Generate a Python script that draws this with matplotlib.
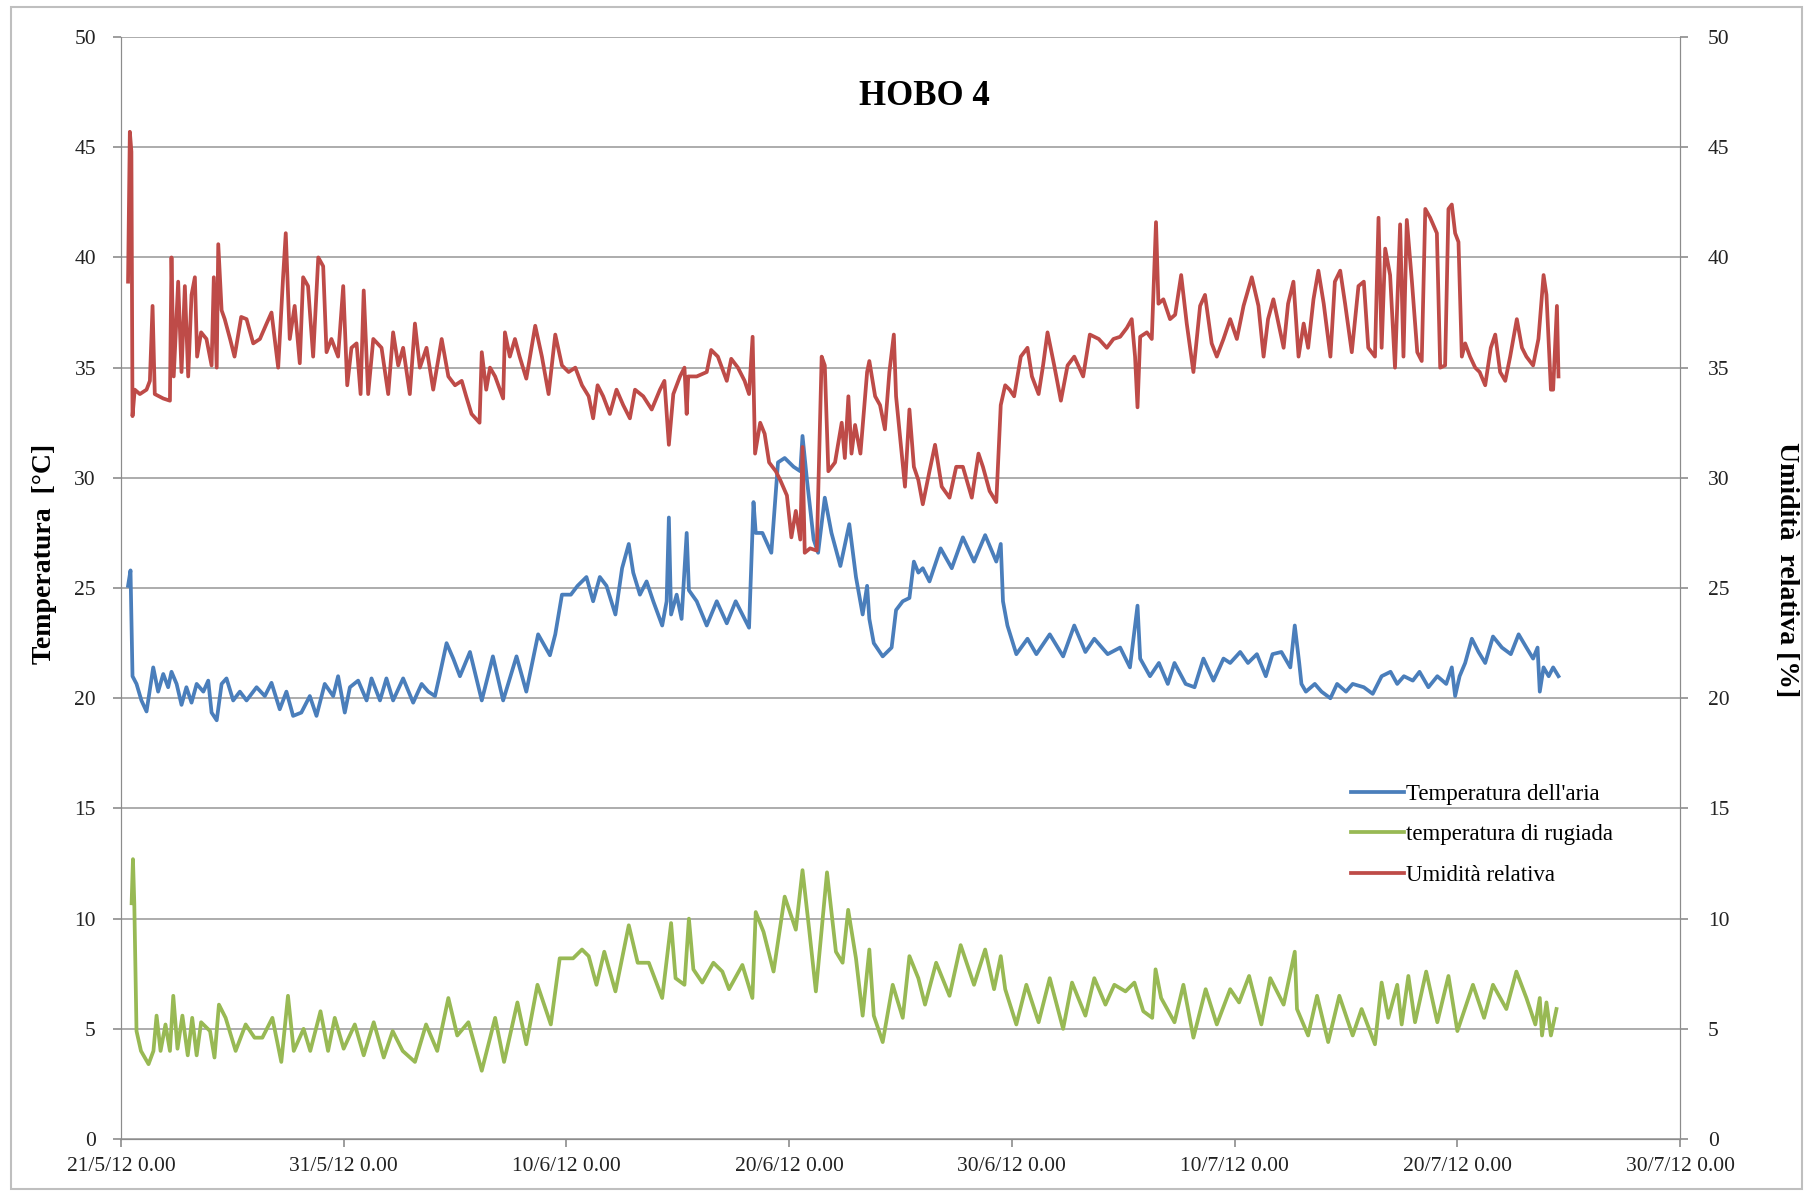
import numpy as np
import matplotlib.pyplot as plt
from matplotlib.patches import Rectangle

plt.rcParams['font.family'] = ['Liberation Serif', 'DejaVu Serif']

# x = days after 21/5/12 0.00
tick_days = [0, 10, 20, 30, 40, 50, 60, 70]
tick_labels = ["21/5/12 0.00", "31/5/12 0.00", "10/6/12 0.00", "20/6/12 0.00",
               "30/6/12 0.00", "10/7/12 0.00", "20/7/12 0.00", "30/7/12 0.00"]

# Temperatura dell'aria
temp_days = [0.32, 0.43, 0.52, 0.7, 0.92, 1.15, 1.45, 1.67, 1.9, 2.12, 2.27, 2.5, 2.72, 2.94,
             3.17, 3.4, 3.7, 3.92, 4.07, 4.3, 4.52, 4.74, 5.04, 5.34, 5.64, 6.09, 6.46, 6.76,
             7.13, 7.43, 7.73, 8.1, 8.48, 8.78, 9.15, 9.53, 9.75, 10.05, 10.28, 10.65, 11.03,
             11.25, 11.63, 11.92, 12.22, 12.67, 13.12, 13.5, 13.8, 14.1, 14.3, 14.62, 14.92,
             15.22, 15.67, 16.2, 16.7, 17.16, 17.76, 18.2, 18.73, 19.26, 19.5, 19.8, 20.2,
             20.5, 20.9, 21.2, 21.5, 21.8, 22.2, 22.5, 22.8, 23.0, 23.3, 23.6, 23.9, 24.3,
             24.5, 24.6, 24.7, 24.95, 25.17, 25.4, 25.5, 25.85, 26.3, 26.75, 27.2, 27.6, 28.2,
             28.4, 28.5, 28.8, 29.2, 29.5, 29.8, 30.2, 30.5, 30.6, 30.8, 31.1, 31.3, 31.6,
             31.9, 32.3, 32.7, 33.0, 33.3, 33.5, 33.6, 33.8, 34.2, 34.6, 34.8, 35.1, 35.4,
             35.6, 35.8, 36.0, 36.3, 36.8, 37.3, 37.8, 38.3, 38.8, 39.3, 39.5, 39.6, 39.8,
             40.2, 40.7, 41.1, 41.7, 42.3, 42.8, 43.3, 43.7, 44.3, 44.86, 45.3, 45.64, 45.76,
             46.2, 46.6, 47.0, 47.3, 47.8, 48.2, 48.6, 49.05, 49.5, 49.8, 50.25, 50.6, 51.0,
             51.4, 51.7, 52.1, 52.5, 52.7, 52.9, 53.0, 53.2, 53.6, 53.9, 54.3, 54.6, 55.0,
             55.3, 55.8, 56.2, 56.6, 57.0, 57.3, 57.6, 58.0, 58.3, 58.7, 59.1, 59.5, 59.75,
             59.9, 60.1, 60.35, 60.65, 60.95, 61.25, 61.6, 62.0, 62.4, 62.75, 63.1, 63.4,
             63.6, 63.7, 63.87, 64.1, 64.3, 64.54]
temp_vals = [25.1, 25.8, 21.0, 20.65, 19.9, 19.4, 21.4, 20.3, 21.1, 20.5, 21.2, 20.65, 19.7,
             20.5, 19.8, 20.65, 20.3, 20.8, 19.35, 19.0, 20.65, 20.9, 19.9, 20.3, 19.9, 20.5,
             20.1, 20.7, 19.5, 20.3, 19.2, 19.35, 20.1, 19.2, 20.65, 20.1, 21.0, 19.35, 20.5,
             20.8, 19.9, 20.9, 19.9, 20.9, 19.9, 20.9, 19.8, 20.65, 20.3, 20.1, 21.0, 22.5,
             21.8, 21.0, 22.1, 19.9, 21.9, 19.9, 21.9, 20.3, 22.9, 21.95, 22.9, 24.7, 24.7,
             25.1, 25.5, 24.4, 25.5, 25.1, 23.8, 25.9, 27.0, 25.7, 24.7, 25.3, 24.4, 23.3,
             24.4, 28.2, 23.8, 24.7, 23.6, 27.5, 24.9, 24.4, 23.3, 24.4, 23.4, 24.4, 23.2,
             28.9, 27.5, 27.5, 26.6, 30.7, 30.9, 30.5, 30.3, 31.9, 29.9, 27.2, 26.6, 29.1,
             27.5, 26.0, 27.9, 25.5, 23.8, 25.1, 23.6, 22.5, 21.9, 22.3, 24.0, 24.4, 24.55,
             26.2, 25.7, 25.9, 25.3, 26.8, 25.9, 27.3, 26.2, 27.4, 26.2, 27.0, 24.4, 23.3,
             22.0, 22.7, 22.0, 22.9, 21.9, 23.3, 22.1, 22.7, 22.0, 22.3, 21.4, 24.2, 21.8,
             21.0, 21.6, 20.65, 21.6, 20.65, 20.5, 21.8, 20.8, 21.8, 21.6, 22.1, 21.6, 22.0,
             21.0, 22.0, 22.1, 21.4, 23.3, 21.6, 20.65, 20.3, 20.65, 20.3, 20.0, 20.65, 20.3,
             20.65, 20.5, 20.2, 21.0, 21.2, 20.65, 21.0, 20.8, 21.2, 20.5, 21.0, 20.65, 21.4,
             20.1, 21.0, 21.6, 22.7, 22.1, 21.6, 22.8, 22.3, 22.0, 22.9, 22.3, 21.8,
             22.3, 20.3, 21.4, 21.0, 21.4, 21.0]

# temperatura di rugiada
dew_days = [0.48, 0.54, 0.6, 0.7, 0.9, 1.24, 1.46, 1.6, 1.78, 2.0, 2.2, 2.35, 2.54, 2.76, 3.0,
            3.2, 3.4, 3.6, 4.0, 4.2, 4.4, 4.7, 5.15, 5.6, 6.0, 6.35, 6.8, 7.2, 7.5, 7.76, 8.2,
            8.5, 8.96, 9.3, 9.6, 10.0, 10.5, 10.9, 11.35, 11.8, 12.2, 12.65, 13.2, 13.7, 14.2,
            14.7, 15.1, 15.6, 16.2, 16.8, 17.2, 17.8, 18.2, 18.7, 19.3, 19.7, 20.3, 20.7, 21.0,
            21.35, 21.7, 22.2, 22.8, 23.2, 23.7, 24.3, 24.7, 24.9, 25.3, 25.5, 25.7, 26.1,
            26.6, 27.0, 27.3, 27.9, 28.35, 28.5, 28.85, 29.3, 29.8, 30.3, 30.6, 30.9, 31.2,
            31.7, 32.1, 32.4, 32.65, 33.0, 33.3, 33.6, 33.8, 34.2, 34.65, 35.1, 35.4, 35.8,
            36.1, 36.6, 37.2, 37.7, 38.3, 38.8, 39.2, 39.5, 39.7, 40.2, 40.65, 41.2, 41.7,
            42.3, 42.7, 43.3, 43.7, 44.2, 44.6, 45.1, 45.5, 45.9, 46.3, 46.45, 46.7, 47.3,
            47.7, 48.15, 48.7, 49.2, 49.8, 50.2, 50.65, 51.2, 51.6, 52.2, 52.7, 52.8, 53.3,
            53.7, 54.2, 54.7, 55.3, 55.7, 56.3, 56.6, 56.9, 57.3, 57.5, 57.8, 58.1, 58.6,
            59.1, 59.6, 60.0, 60.7, 61.2, 61.6, 62.2, 62.65, 63.1, 63.5, 63.7, 63.8, 64.0,
            64.2, 64.45]
dew_vals = [10.7, 12.7, 10.7, 4.9, 4.0, 3.4, 4.0, 5.6, 4.0, 5.2, 4.0, 6.5, 4.1, 5.6, 3.8, 5.5,
            3.8, 5.3, 4.9, 3.7, 6.1, 5.5, 4.0, 5.2, 4.6, 4.6, 5.5, 3.5, 6.5, 4.0, 5.0, 4.0,
            5.8, 4.0, 5.5, 4.1, 5.2, 3.8, 5.3, 3.7, 4.9, 4.0, 3.5, 5.2, 4.0, 6.4, 4.7, 5.3,
            3.1, 5.5, 3.5, 6.2, 4.3, 7.0, 5.2, 8.2, 8.2, 8.6, 8.3, 7.0, 8.5, 6.7, 9.7, 8.0,
            8.0, 6.4, 9.8, 7.3, 7.0, 10.0, 7.7, 7.1, 8.0, 7.6, 6.8, 7.9, 6.4, 10.3, 9.4, 7.6,
            11.0, 9.5, 12.2, 9.5, 6.7, 12.1, 8.5, 8.0, 10.4, 8.2, 5.6, 8.6, 5.6, 4.4, 7.0,
            5.5, 8.3, 7.3, 6.1, 8.0, 6.5, 8.8, 7.0, 8.6, 6.8, 8.3, 6.8, 5.2, 7.0, 5.3, 7.3,
            5.0, 7.1, 5.6, 7.3, 6.1, 7.0, 6.7, 7.1, 5.8, 5.5, 7.7, 6.4, 5.3, 7.0, 4.6, 6.8,
            5.2, 6.8, 6.2, 7.4, 5.2, 7.3, 6.1, 8.5, 5.9, 4.7, 6.5, 4.4, 6.5, 4.7, 5.9, 4.3,
            7.1, 5.5, 7.0, 5.2, 7.4, 5.3, 7.6, 5.3, 7.4, 4.9, 7.0, 5.5, 7.0, 5.9, 7.6, 6.4,
            5.2, 6.4, 4.7, 6.2, 4.7, 5.9]

# Umidita relativa
hum_days = [0.32, 0.4, 0.47, 0.52, 0.62, 0.85, 1.15, 1.3, 1.42, 1.52, 1.9, 2.2, 2.27, 2.37,
            2.57, 2.72, 2.87, 3.02, 3.17, 3.32, 3.42, 3.6, 3.84, 4.07, 4.17, 4.3, 4.37, 4.52,
            4.66, 4.9, 5.1, 5.4, 5.64, 5.94, 6.24, 6.54, 6.76, 7.06, 7.28, 7.4, 7.58, 7.8,
            8.03, 8.18, 8.4, 8.63, 8.86, 9.08, 9.23, 9.45, 9.75, 9.98, 10.16, 10.35, 10.58,
            10.76, 10.9, 11.1, 11.33, 11.7, 12.0, 12.22, 12.45, 12.67, 12.97, 13.2, 13.42,
            13.72, 14.02, 14.4, 14.7, 15.0, 15.3, 15.5, 15.74, 16.1, 16.2, 16.4, 16.57, 16.8,
            17.16, 17.24, 17.46, 17.69, 17.9, 18.2, 18.6, 18.9, 19.2, 19.5, 19.8, 20.1, 20.4,
            20.7, 21.0, 21.2, 21.4, 21.65, 21.95, 22.25, 22.55, 22.85, 23.08, 23.45, 23.83,
            24.2, 24.4, 24.6, 24.8, 25.1, 25.3, 25.4, 25.47, 25.85, 26.3, 26.5, 26.8, 27.2,
            27.4, 27.7, 28.0, 28.2, 28.36, 28.47, 28.7, 28.9, 29.1, 29.4, 29.6, 29.9, 30.1,
            30.3, 30.5, 30.6, 30.7, 30.94, 31.24, 31.46, 31.6, 31.76, 32.06, 32.36, 32.5,
            32.66, 32.8, 32.96, 33.2, 33.5, 33.6, 33.86, 34.08, 34.3, 34.5, 34.7, 34.8, 35.2,
            35.4, 35.6, 35.8, 36.0, 36.3, 36.55, 36.85, 37.2, 37.5, 37.8, 38.2, 38.5, 38.7,
            39.0, 39.3, 39.5, 39.7, 39.9, 40.1, 40.4, 40.7, 40.9, 41.2, 41.4, 41.6, 41.9,
            42.2, 42.5, 42.8, 43.2, 43.5, 43.9, 44.26, 44.56, 44.86, 45.16, 45.38, 45.53,
            45.64, 45.76, 46.06, 46.28, 46.47, 46.58, 46.8, 47.1, 47.33, 47.6, 47.85, 48.15,
            48.45, 48.67, 48.97, 49.2, 49.5, 49.8, 50.1, 50.4, 50.77, 51.07, 51.3, 51.5,
            51.74, 51.97, 52.2, 52.4, 52.64, 52.87, 53.1, 53.3, 53.54, 53.76, 54.0, 54.3,
            54.5, 54.74, 54.96, 55.26, 55.56, 55.8, 56.0, 56.3, 56.46, 56.6, 56.76, 56.98,
            57.2, 57.43, 57.58, 57.73, 57.96, 58.2, 58.4, 58.56, 58.78, 59.08, 59.23, 59.45,
            59.6, 59.75, 59.9, 60.05, 60.2, 60.35, 60.57, 60.8, 61.0, 61.25, 61.5, 61.7,
            61.92, 62.15, 62.37, 62.67, 62.9, 63.1, 63.4, 63.64, 63.87, 64.0, 64.2, 64.3,
            64.47, 64.54]
hum_vals = [38.9, 45.7, 44.8, 32.8, 34.0, 33.8, 34.0, 34.4, 37.8, 33.8, 33.6, 33.5, 40.0, 34.6,
            38.9, 34.8, 38.7, 34.6, 38.3, 39.1, 35.5, 36.6, 36.3, 35.1, 39.1, 35.0, 40.6, 37.6,
            37.2, 36.3, 35.5, 37.3, 37.2, 36.1, 36.3, 37.0, 37.5, 35.0, 39.1, 41.1, 36.3, 37.8,
            35.2, 39.1, 38.7, 35.5, 40.0, 39.6, 35.7, 36.3, 35.5, 38.7, 34.2, 35.9, 36.1, 33.8,
            38.5, 33.8, 36.3, 35.9, 33.8, 36.6, 35.1, 35.9, 33.8, 37.0, 35.0, 35.9, 34.0, 36.3,
            34.6, 34.2, 34.4, 33.7, 32.9, 32.5, 35.7, 34.0, 35.0, 34.6, 33.6, 36.6, 35.5, 36.3,
            35.5, 34.5, 36.9, 35.5, 33.8, 36.5, 35.1, 34.8, 35.0, 34.2, 33.7, 32.7, 34.2, 33.7,
            32.9, 34.0, 33.3, 32.7, 34.0, 33.7, 33.1, 34.0, 34.4, 31.5, 33.8, 34.6, 35.0, 32.9,
            34.6, 34.6, 34.8, 35.8, 35.5, 34.4, 35.4, 35.0, 34.4, 33.8, 36.4, 31.1, 32.5, 32.0,
            30.7, 30.3, 29.9, 29.2, 27.3, 28.5, 27.2, 31.4, 26.6, 26.8, 26.7, 35.5, 35.1, 30.3,
            30.7, 32.5, 30.9, 33.7, 31.1, 32.4, 31.1, 34.8, 35.3, 33.7, 33.3, 32.2, 34.8, 36.5,
            33.7, 29.6, 33.1, 30.5, 29.9, 28.8, 30.3, 31.5, 29.6, 29.1, 30.5, 30.5, 29.1, 31.1,
            30.5, 29.4, 28.9, 33.3, 34.2, 34.0, 33.7, 35.5, 35.9, 34.6, 33.8, 35.1, 36.6, 35.1,
            33.5, 35.1, 35.5, 34.6, 36.5, 36.3, 35.9, 36.3, 36.4, 36.8, 37.2, 35.5, 33.2, 36.4,
            36.6, 36.3, 41.6, 37.9, 38.1, 37.2, 37.4, 39.2, 37.0, 34.8, 37.8, 38.3, 36.1, 35.5,
            36.3, 37.2, 36.3, 37.8, 39.1, 37.8, 35.5, 37.2, 38.1, 37.0, 35.9, 37.9, 38.9, 35.5,
            37.0, 35.9, 38.1, 39.4, 37.9, 35.5, 38.9, 39.4, 37.9, 35.7, 38.7, 38.9, 35.9, 35.5,
            41.8, 35.9, 40.4, 39.2, 35.0, 41.5, 35.5, 41.7, 38.9, 35.7, 35.3, 42.2, 41.8, 41.1,
            35.0, 35.1, 42.2, 42.4, 41.1, 40.7, 35.5, 36.1, 35.5, 35.0, 34.8, 34.2, 35.9, 36.5,
            34.8, 34.4, 35.5, 37.2, 35.9, 35.5, 35.1, 36.3, 39.2, 38.3, 34.0, 34.0, 37.8, 34.6]

blue = '#4a7ebb'
green = '#98b954'
red = '#be4b48'

fig = plt.figure(figsize=(18.13, 11.94), dpi=100)
ax = fig.add_axes([0.0667, 0.046, 0.86, 0.923])
ax2 = ax.twinx()

l1, = ax.plot(temp_days, temp_vals, color=blue, lw=2.7, label="Temperatura dell'aria")
l2, = ax.plot(dew_days, dew_vals, color=green, lw=2.7, label="temperatura di rugiada")
l3, = ax2.plot(hum_days, hum_vals, color=red, lw=2.7, label="Umidità relativa")

for a in (ax, ax2):
    a.set_ylim(0, 50)
    a.set_yticks(np.arange(0, 51, 5))
    a.set_xlim(0, 70)
    for s in a.spines.values():
        s.set_color('#8c8c8c')
    a.spines['top'].set_visible(False)
ax.set_xticks(tick_days)
ax.set_xticklabels(tick_labels)
ax.yaxis.grid(True, color='#a6a6a6', lw=1.3)
ax.set_axisbelow(True)
ax.tick_params(axis='both', colors='#8c8c8c', labelcolor='#222222', labelsize=15.5,
               length=6, width=1.2)
ax.tick_params(axis='y', pad=12)
ax.tick_params(axis='x', pad=7)
ax2.tick_params(axis='y', colors='#8c8c8c', labelcolor='#222222', labelsize=15.5,
                length=6, width=1.2, pad=14)

ax.set_ylabel("Temperatura  [°C]", fontsize=20, fontweight='bold')
ax.yaxis.set_label_coords(-0.049, 0.531)
ax.yaxis.label.set_va('center')
ax2.set_ylabel("Umidità  relativa [%]", fontsize=20, fontweight='bold', rotation=270)
ax2.yaxis.set_label_coords(1.068, 0.517)
ax2.yaxis.label.set_va('center')

ax.text(0.5156, 0.946, "HOBO 4", transform=ax.transAxes, ha='center', va='center',
        fontsize=25, fontweight='bold')

leg = ax.legend(handles=[l1, l2, l3], loc='center left', bbox_to_anchor=(0.789, 0.276),
                frameon=False, fontsize=16.5, handlelength=2.3, handletextpad=0.1,
                labelspacing=0.85, borderaxespad=0, borderpad=0)

fig.patches.append(Rectangle((0.006, 0.004), 0.988, 0.99, transform=fig.transFigure,
                             fill=False, edgecolor='#bfbfbf', lw=1.5))

fig.savefig('out.png', dpi=100)
